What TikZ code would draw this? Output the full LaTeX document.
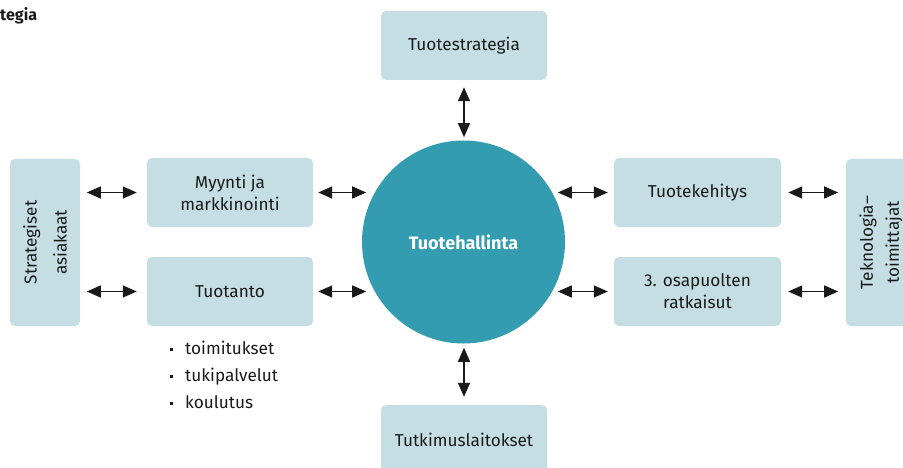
\documentclass[tikz,border=0pt]{standalone}
\usepackage{fontspec}
\setmainfont{Fira Sans}
\usetikzlibrary{arrows.meta}
\definecolor{boxblue}{HTML}{C5DEE4}
\definecolor{circblue}{HTML}{349CB0}
\definecolor{txt}{HTML}{1A1A1A}
\newcommand{\mybul}{\makebox[15pt][l]{\raisebox{3.5pt}{\rule{3pt}{3pt}}}}
\tikzset{
  pbox/.style={fill=boxblue, draw=none, rounded corners=5pt, inner sep=0pt, text=txt,
    font=\fontsize{17.2}{22}\selectfont, align=center},
  rtxt/.style={rotate=90, text=txt, align=center},
  darr/.style={{Triangle[length=14pt,width=12pt]}-{Triangle[length=14pt,width=12pt]}, line width=1.4pt, txt},
}
\begin{document}
\begin{tikzpicture}[x=1pt,y=-1pt]
\useasboundingbox (0,0) rectangle (903,468);
\clip (0,0) rectangle (903,468);
% title fragment
\node[anchor=west, inner sep=0pt, font=\fontsize{16}{18}\selectfont\bfseries, text=txt] (ttl) at (0,16) {tegia};
% boxes
\node[pbox, minimum width=166pt, minimum height=69pt] (ts) at (464,45.5) {Tuotestrategia};
\node[pbox, minimum width=166pt, minimum height=69pt] (tl) at (464,439.5) {Tutkimuslaitokset};
\node[pbox, minimum width=166pt, minimum height=69pt] (mm) at (230,192.5) {Myynti ja\\markkinointi};
\node[pbox, minimum width=166pt, minimum height=69pt] (tu) at (230,291.5) {Tuotanto};
\node[pbox, minimum width=167pt, minimum height=69pt] (tk) at (697.5,192.5) {Tuotekehitys};
\node[pbox, minimum width=167pt, minimum height=69pt] (os) at (697.5,291.5) {3. osapuolten\\ratkaisut};
\node[pbox, minimum width=70pt, minimum height=167pt] (sa) at (45,242.5) {};
\node[rtxt, font=\fontsize{17.2}{30}\selectfont] (sat) at (sa.center) {Strategiset\\asiakaat};
\node[pbox, minimum width=70pt, minimum height=167pt] (tt) at (881,242.5) {};
\node[rtxt, font=\fontsize{17.2}{26}\selectfont] (ttt) at (tt.center) {Teknologia–\\toimittajat};
% circle
\node[circle, fill=circblue, minimum size=203pt, inner sep=0pt, text=white, font=\fontsize{18}{22}\selectfont\bfseries] (c) at (463.5,242) {Tuotehallinta};
% bullets
\node[anchor=west, inner sep=0pt, text=txt, font=\fontsize{17.2}{27}\selectfont, align=left] (bl) at (170,375) {\mybul toimitukset\\\mybul tukipalvelut\\\mybul koulutus};
% arrows
\draw[darr] ([xshift=-60pt]mm.west) -- ([xshift=-10pt]mm.west);
\draw[darr] ([xshift=-60pt]tu.west) -- ([xshift=-10pt]tu.west);
\draw[darr] ([xshift=5pt]mm.east) -- ([xshift=53pt]mm.east);
\draw[darr] ([xshift=5pt]tu.east) -- ([xshift=53pt]tu.east);
\draw[darr] ([xshift=-56pt]tk.west) -- ([xshift=-6pt]tk.west);
\draw[darr] ([xshift=-56pt]os.west) -- ([xshift=-6pt]os.west);
\draw[darr] ([xshift=7pt]tk.east) -- ([xshift=57pt]tk.east);
\draw[darr] ([xshift=7pt]os.east) -- ([xshift=57pt]os.east);
\draw[darr] ([yshift=-7pt]ts.south) -- ([yshift=-57pt]ts.south);
\draw[darr] ([yshift=8pt]tl.north) -- ([yshift=57pt]tl.north);
\end{tikzpicture}
\end{document}
